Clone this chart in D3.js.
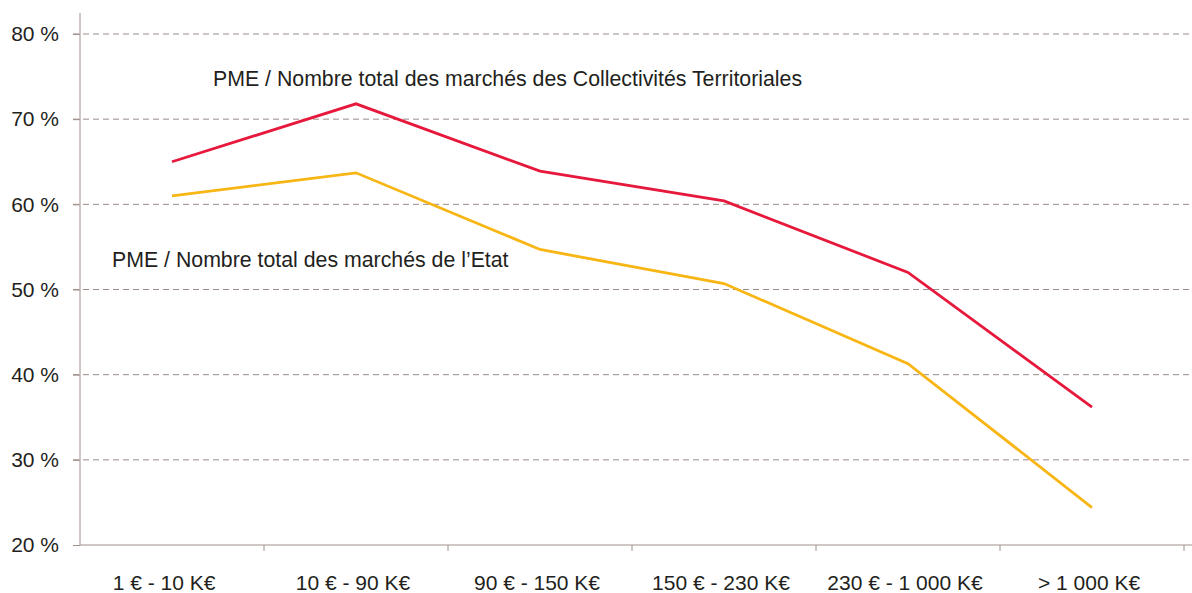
<!DOCTYPE html>
<html>
<head>
<meta charset="utf-8">
<script src="https://cdn.jsdelivr.net/npm/d3@7"></script>
<style>
  body { margin: 0; background: #fff; }
  text { font-family: "Liberation Sans", Arial, sans-serif; fill: #231f20; }
</style>
</head>
<body>
<svg id="chart" width="1192" height="593"></svg>
<script>
// data
var categories = ["1 € - 10 K€", "10 € - 90 K€", "90 € - 150 K€", "150 € - 230 K€", "230 € - 1 000 K€", "> 1 000 K€"];
var collectivites = [65, 71.8, 63.9, 60.4, 52, 36.2];
var etat = [61, 63.7, 54.7, 50.7, 41.3, 24.4];
var yTicks = [20, 30, 40, 50, 60, 70, 80];
var seriesLabels = ["PME / Nombre total des marchés des Collectivités Territoriales", "PME / Nombre total des marchés de l\u2019Etat"];

var svg = d3.select("#chart");
var plotLeft = 80, plotRight = 1184, plotTop = 34, plotBottom = 545;

var x = d3.scaleBand().domain(categories).range([plotLeft, plotRight]);
var y = d3.scaleLinear().domain([20, 80]).range([plotBottom, plotTop]);

// dashed grid lines
svg.append("g")
  .selectAll("line")
  .data(yTicks.slice(1))
  .enter()
  .append("line")
  .attr("x1", plotLeft - 7)
  .attr("x2", 1192)
  .attr("y1", function (d) { return y(d); })
  .attr("y2", function (d) { return y(d); })
  .style("stroke", "#9a8b89")
  .style("stroke-width", 1)
  .style("stroke-dasharray", "6,4");

// y axis
var yAxis = svg.append("g")
  .attr("transform", "translate(" + plotLeft + ",0)")
  .call(d3.axisLeft(y).tickValues(yTicks).tickSize(7).tickFormat(function (d) { return d + " %"; }));
yAxis.select(".domain").attr("d", "M0,13V" + plotBottom).style("stroke", "#a08f8c");
yAxis.selectAll(".tick line").style("stroke", "#a08f8c");
yAxis.selectAll(".tick text")
  .attr("x", -21)
  .style("font-size", "21px")
  .style("font-family", "Liberation Sans, Arial, sans-serif")
  .style("fill", "#231f20");

// x axis, ticks between the categories
var xAxis = svg.append("g")
  .attr("transform", "translate(0," + plotBottom + ")");
xAxis.append("line")
  .attr("x1", plotLeft)
  .attr("x2", 1192)
  .style("stroke", "#a08f8c");
xAxis.selectAll(".xt")
  .data(categories)
  .enter()
  .append("line")
  .attr("class", "xt")
  .attr("x1", function (d) { return x(d) + x.bandwidth(); })
  .attr("x2", function (d) { return x(d) + x.bandwidth(); })
  .attr("y1", 0)
  .attr("y2", 6)
  .style("stroke", "#a08f8c");
xAxis.selectAll("text")
  .data(categories)
  .enter()
  .append("text")
  .attr("x", function (d, i) { return x(d) + x.bandwidth() / 2 - (i == 0 ? 8 : 3); })
  .attr("y", 45)
  .attr("text-anchor", "middle")
  .style("font-size", "21px")
  .text(function (d) { return d; });

// lines
var line = d3.line()
  .x(function (d, i) { return x(categories[i]) + x.bandwidth() / 2; })
  .y(function (d) { return y(d); });

svg.append("path")
  .datum(etat)
  .attr("d", line)
  .style("fill", "none")
  .style("stroke", "#f8b615")
  .style("stroke-width", 2.8);

svg.append("path")
  .datum(collectivites)
  .attr("d", line)
  .style("fill", "none")
  .style("stroke", "#e6193c")
  .style("stroke-width", 2.8);

// series labels
svg.append("text")
  .attr("x", 213)
  .attr("y", 86)
  .style("font-size", "21.3px")
  .text(seriesLabels[0]);

svg.append("text")
  .attr("x", 112)
  .attr("y", 267)
  .style("font-size", "21.3px")
  .text(seriesLabels[1]);
</script>
</body>
</html>
